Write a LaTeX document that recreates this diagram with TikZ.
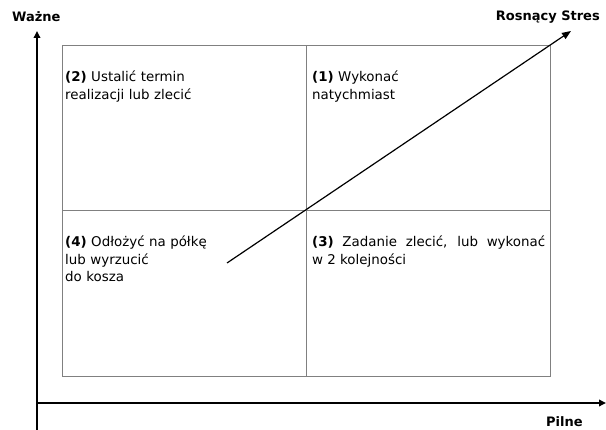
\documentclass[tikz,border=0pt]{standalone}
\usepackage{fontspec}
\setmainfont{DejaVu Sans}
\usetikzlibrary{arrows.meta}
\begin{document}
\begin{tikzpicture}[x=1pt,y=-1pt,
  quad/.style={draw=black!50,line width=0.9pt,minimum width=244pt,minimum height=165.5pt,inner sep=0pt,anchor=north west},
  qtext/.style={anchor=base west,inner sep=0pt,align=left,text width=236pt,font=\fontsize{13.4}{17.5}\selectfont},
  axlabel/.style={inner sep=0pt,font=\bfseries\fontsize{13}{15}\selectfont},
  axis/.style={line width=2.2pt,-{Triangle[length=7pt,width=6.5pt]}},
  stress/.style={line width=1.2pt,-{Triangle[length=9pt,width=7pt]}}]
\useasboundingbox (0,0) rectangle (606,430);
% quadrants
\node[quad] (q2) at (62,45) {};
\node[quad] (q1) at (306,45) {};
\node[quad] (q4) at (62,210.5) {};
\node[quad] (q3) at (306,210.5) {};
% axes
\coordinate (o) at (37,403);
\coordinate (ybot) at (37,430);
\coordinate (ytop) at (37,31);
\coordinate (xend) at (606,403);
\draw[axis] (ybot) -- (ytop);
\draw[axis,shorten <=-1pt] (o) -- (xend);
% labels
\node[axlabel,anchor=base west] (wazne) at (12,22) {Ważne};
\node[axlabel,anchor=base east] (rs) at (600,21) {Rosnący Stres};
\node[axlabel,anchor=base west] (pilne) at (546,427) {Pilne};
% stress arrow
\coordinate (s0) at (227,263);
\coordinate (s1) at (571,31);
\draw[stress] (s0) -- (s1);
% texts
\node[qtext] (t2) at (65,82) {\textbf{(2)} Ustalić termin\\realizacji lub zlecić};
\node[qtext] (t1) at (312,82) {\textbf{(1)} Wykonać\\natychmiast};
\node[qtext] (t4) at (65,247) {\textbf{(4)} Odłożyć na półkę\\lub wyrzucić\\do kosza};
\node[qtext,align=justify,text width=233pt] (t3) at (312,247) {\textbf{(3)} Zadanie zlecić, lub wykonać\linebreak w 2 kolejności};
\end{tikzpicture}
\end{document}
